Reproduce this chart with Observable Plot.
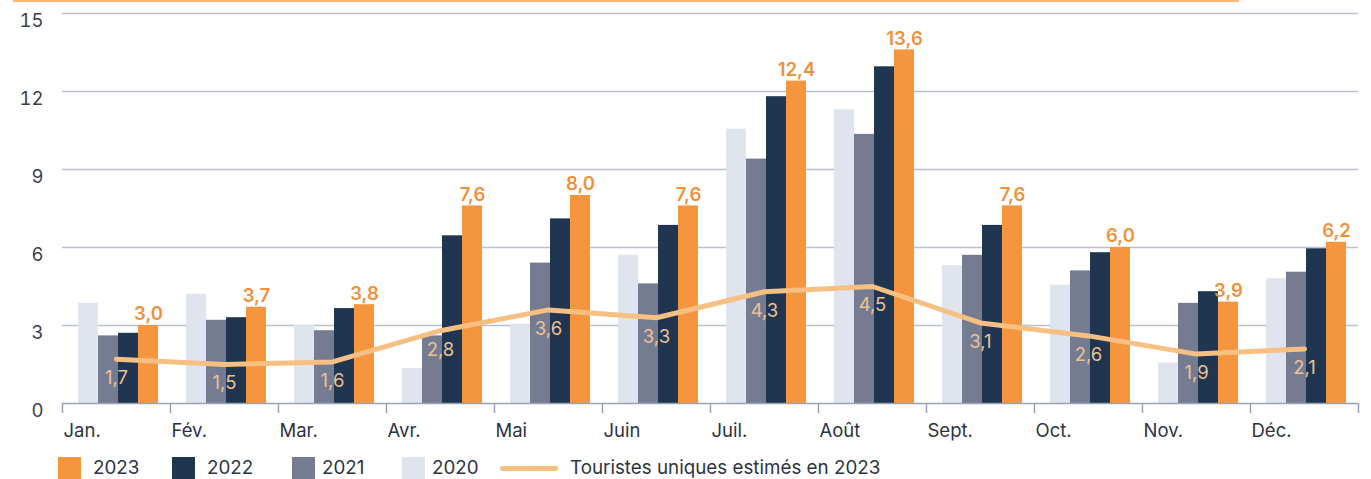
<!DOCTYPE html>
<html><head><meta charset="utf-8">
<script src="https://cdn.jsdelivr.net/npm/d3@7"></script>
<script src="https://cdn.jsdelivr.net/npm/@observablehq/plot@0.6"></script>
<style>
body{margin:0;background:#fff;font-family:Inter,"Liberation Sans",sans-serif;}
#wrap{position:relative;width:1371px;height:479px;overflow:hidden;}
#topband{position:absolute;left:13px;top:0;width:1226px;height:2px;background:#f9b878;}
#legend{position:relative;width:1371px;height:31px;}
.sw{position:absolute;top:9px;width:23px;height:23px;}
.ln{position:absolute;top:18px;height:5px;border-radius:3px;}
.lt{position:absolute;top:9px;font-size:18.8px;color:#2d3344;line-height:22px;white-space:nowrap;}
</style></head><body>
<div id="wrap"><div id="chart"></div><div id="legend"></div><div id="topband"></div></div>
<script>
const months = ["Jan.","Fév.","Mar.","Avr.","Mai","Juin","Juil.","Août","Sept.","Oct.","Nov.","Déc."];
const years = ["2020","2021","2022","2023"];
const v2020 = [3.85,4.2,3.0,1.35,3.05,5.7,10.55,11.3,5.3,4.55,1.55,4.8];
const v2021 = [2.6,3.2,2.8,2.6,5.4,4.6,9.4,10.35,5.7,5.1,3.85,5.05];
const v2022 = [2.7,3.3,3.65,6.45,7.1,6.85,11.8,12.95,6.85,5.8,4.3,5.95];
const v2023 = [3.0,3.7,3.8,7.6,8.0,7.6,12.4,13.6,7.6,6.0,3.9,6.2];
const tourists = [1.7,1.5,1.6,2.8,3.6,3.3,4.3,4.5,3.1,2.6,1.9,2.1];
const yTicks = [0,3,6,9,12,15];
const legendLineLabel = "Touristes uniques estimés en 2023";
const colors = ["#dfe4ee","#757b90","#203550","#f5963f"];

const W=1371, H=448, mL=62, mR=13, mT=13, mB=45;
const bw=(W-mL-mR)/12;
const gStart=16/108*bw, barW=20/108*bw;
const fmt = v => d3.format(".1f")(v).replace(".", ",");
const FS = 18.5;

const series=[v2020,v2021,v2022,v2023];
const rows=[];
series.forEach((arr,i)=>arr.forEach((v,j)=>rows.push({month:months[j],year:years[i],value:v})));
const rows2023 = rows.filter(d=>d.year==="2023");
const tRows = tourists.map((v,j)=>({month:months[j],value:v}));

const barMarks = years.map((yr,i)=>Plot.barY(rows.filter(d=>d.year===yr),{
  x:"month", y:"value", fill:colors[i],
  insetLeft:gStart+barW*i, insetRight:bw-(gStart+barW*(i+1))
}));

const chart = Plot.plot({
  width:W, height:H, marginLeft:mL, marginRight:mR, marginTop:mT, marginBottom:mB,
  style:{fontFamily:"Inter, 'Liberation Sans', sans-serif", background:"transparent"},
  x:{type:"band", domain:months, padding:0},
  y:{domain:[0,15]},
  marks:[
    Plot.gridY(yTicks.slice(1),{stroke:"#b9bfcc", strokeOpacity:1, strokeWidth:1.5}),
    Plot.axisY(yTicks,{tickSize:0, tickPadding:19, fontSize:FS, fill:"#3a3f4f", dy:8, label:null}),
    ...barMarks,
    Plot.ruleY([0],{stroke:"#9aa2b4", strokeWidth:1.5}),
    Plot.axisX({tickSize:10, tickFormat:()=>"", dx:-bw/2, stroke:"#9aa2b4", strokeWidth:1.5, label:null}),
    Plot.axisX(["Déc."],{tickSize:10, tickFormat:()=>"", dx:bw/2, stroke:"#9aa2b4", strokeWidth:1.5, label:null}),
    Plot.axisX({tickSize:0, tickPadding:20, textAnchor:"start", dx:-bw/2+1, fontSize:FS, fill:"#2d3344", label:null}),
    Plot.line(tRows,{x:"month", y:"value", stroke:"#f7c083", strokeWidth:5, strokeLinejoin:"round", strokeLinecap:"round"}),
    Plot.text(tRows,{x:"month", y:"value", text:d=>fmt(d.value), dy:19, fill:"#ebc394", fontSize:FS}),
    Plot.text(rows2023,{x:"month", y:"value", text:d=>fmt(d.value), dx:gStart+barW*3.5-bw/2, dy:-11, fill:"#f0903a", fontSize:FS, fontWeight:600})
  ]
});
document.getElementById("chart").appendChild(chart);

const legend=document.getElementById("legend");
const items=[[58,93],[172,207],[292,322],[402,432]];
[3,2,1,0].forEach((si,k)=>{
  const s=document.createElement("div"); s.className="sw"; s.style.left=items[k][0]+"px"; s.style.background=colors[si]; legend.appendChild(s);
  const t=document.createElement("div"); t.className="lt"; t.style.left=items[k][1]+"px"; t.textContent=years[si]; legend.appendChild(t);
});
const ln=document.createElement("div"); ln.className="ln"; ln.style.left="500px"; ln.style.width="58px"; ln.style.background="#f7c083"; legend.appendChild(ln);
const lt=document.createElement("div"); lt.className="lt"; lt.style.left="570px"; lt.textContent=legendLineLabel; legend.appendChild(lt);
</script>
</body></html>
